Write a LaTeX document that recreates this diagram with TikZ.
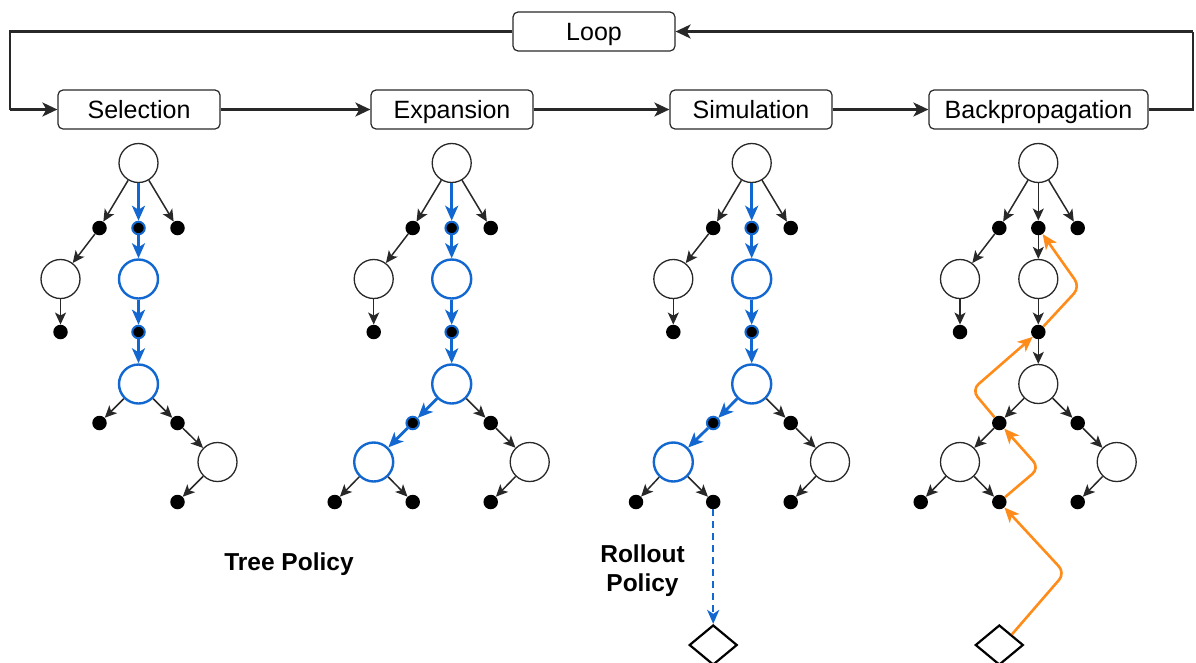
\documentclass[tikz,border=0pt]{standalone}
\usepackage{fontspec}
\setmainfont{Liberation Sans}
\usetikzlibrary{arrows.meta,shapes.geometric}
\definecolor{myblue}{RGB}{18,104,208}
\definecolor{myorange}{RGB}{255,140,26}
\definecolor{lineblk}{RGB}{40,40,40}
\begin{document}
\begin{tikzpicture}[x=1pt,y=-1pt,
  box/.style={draw=lineblk, line width=1.2pt, rounded corners=5pt, minimum width=162pt, minimum height=39pt, inner sep=0pt, fill=white, text height=18pt, text depth=0pt, font=\fontsize{25}{30}\selectfont},
  flowline/.style={line width=2.4pt, draw=lineblk},
  flow/.style={line width=2.4pt, draw=lineblk, -{Stealth[length=15pt,width=14pt,inset=4pt]}},
  circ/.style={circle, draw=lineblk, line width=1.3pt, minimum size=39pt, inner sep=0pt, fill=white},
  bcirc/.style={circ, draw=myblue, line width=2.4pt},
  sdot/.style={circle, fill=black, minimum size=14.5pt, inner sep=0pt},
  bdot/.style={sdot, draw=myblue, line width=2pt, minimum size=12.5pt},
  term/.style={diamond, draw=black, line width=2.2pt, minimum width=48pt, minimum height=40pt, inner sep=0pt, fill=white},
  edge/.style={line width=1.5pt, draw=lineblk, -{Stealth[length=12pt,width=11pt,inset=3pt]}},
  bedge/.style={line width=2.8pt, draw=myblue, -{Stealth[length=15pt,width=13pt,inset=4pt]}},
  bdash/.style={line width=2.4pt, draw=myblue, dash pattern=on 7pt off 5pt, -{Stealth[length=14pt,width=12pt,inset=4pt]}},
  oedge/.style={line width=2.6pt, draw=myorange, rounded corners=9pt, -{Stealth[length=15pt,width=13pt,inset=4pt]}},
  lbl/.style={font=\bfseries\fontsize{24.5}{29}\selectfont, align=center}
]
\useasboundingbox (0,0) rectangle (1196,662);

% top flow
\node[box] (loop) at (594,31.5) {Loop};
\node[box] (sel) at (139,109.5) {Selection};
\node[box] (exp) at (452,109.5) {Expansion};
\node[box] (sim) at (751,109.5) {Simulation};
\node[box, minimum width=219pt] (bp) at (1038.5,109.5) {Backpropagation};
\coordinate (tr) at (1193,31.5);
\coordinate (br) at (1193,109.5);
\coordinate (tl) at (10,31.5);
\coordinate (bl) at (10,109.5);
\draw[flowline] (bp.east) -- (br) -- (tr);
\draw[flow] (tr) -- (loop.east);
\draw[flowline] (loop.west) -- (tl) -- (bl);
\draw[flow] (bl) -- (sel.west);
\draw[flow] (sel) -- (exp);
\draw[flow] (exp) -- (sim);
\draw[flow] (sim) -- (bp);

% Tree A (Selection)
\begin{scope}[xshift=138.5pt]
\node[circ] (A0) at (0,163) {};
\node[sdot] (A1) at (-39,228) {};
\node[bdot] (A2) at (0,228) {};
\node[sdot] (A3) at (39,228) {};
\node[circ] (A4) at (-78,279) {};
\node[bcirc] (A5) at (0,279) {};
\node[sdot] (A6) at (-78,332) {};
\node[bdot] (A7) at (0,332) {};
\node[bcirc] (A8) at (0,384) {};
\node[sdot] (A9) at (-39,423) {};
\node[sdot] (A10) at (39,423) {};
\node[circ] (A12) at (79,462) {};
\node[sdot] (A15) at (39,502) {};
\draw[edge] (A0) -- (A1);
\draw[edge] (A0) -- (A3);
\draw[edge] (A1) -- (A4);
\draw[edge] (A4) -- (A6);
\draw[edge] (A8) -- (A9);
\draw[edge] (A8) -- (A10);
\draw[edge] (A10) -- (A12);
\draw[edge] (A12) -- (A15);
\draw[bedge] (A0) -- (A2);
\draw[bedge] (A2) -- (A5);
\draw[bedge] (A5) -- (A7);
\draw[bedge] (A7) -- (A8);
\end{scope}

% Tree B (Expansion)
\begin{scope}[xshift=451.7pt]
\node[circ] (B0) at (0,163) {};
\node[sdot] (B1) at (-39,228) {};
\node[bdot] (B2) at (0,228) {};
\node[sdot] (B3) at (39,228) {};
\node[circ] (B4) at (-78,279) {};
\node[bcirc] (B5) at (0,279) {};
\node[sdot] (B6) at (-78,332) {};
\node[bdot] (B7) at (0,332) {};
\node[bcirc] (B8) at (0,384) {};
\node[bdot] (B9) at (-39,423) {};
\node[sdot] (B10) at (39,423) {};
\node[bcirc] (B11) at (-78,462) {};
\node[circ] (B12) at (78,462) {};
\node[sdot] (B13) at (-117,502) {};
\node[sdot] (B14) at (-39,502) {};
\node[sdot] (B15) at (39,502) {};
\draw[edge] (B0) -- (B1);
\draw[edge] (B0) -- (B3);
\draw[edge] (B1) -- (B4);
\draw[edge] (B4) -- (B6);
\draw[edge] (B8) -- (B10);
\draw[edge] (B10) -- (B12);
\draw[edge] (B12) -- (B15);
\draw[edge] (B11) -- (B13);
\draw[edge] (B11) -- (B14);
\draw[bedge] (B0) -- (B2);
\draw[bedge] (B2) -- (B5);
\draw[bedge] (B5) -- (B7);
\draw[bedge] (B7) -- (B8);
\draw[bedge] (B8) -- (B9);
\draw[bedge] (B9) -- (B11);
\end{scope}

% Tree C (Simulation)
\begin{scope}[xshift=751.7pt]
\node[circ] (C0) at (0,163) {};
\node[sdot] (C1) at (-38.5,228) {};
\node[bdot] (C2) at (0,228) {};
\node[sdot] (C3) at (39,228) {};
\node[circ] (C4) at (-78.4,279) {};
\node[bcirc] (C5) at (0,279) {};
\node[sdot] (C6) at (-78.4,332) {};
\node[bdot] (C7) at (0,332) {};
\node[bcirc] (C8) at (0,384) {};
\node[bdot] (C9) at (-38.5,423) {};
\node[sdot] (C10) at (39,423) {};
\node[bcirc] (C11) at (-78.4,462) {};
\node[circ] (C12) at (78.3,462) {};
\node[sdot] (C13) at (-115.7,502) {};
\node[sdot] (C14) at (-38.5,502) {};
\node[sdot] (C15) at (39,502) {};
\node[term] (Cdm) at (-38.5,645) {};
\draw[edge] (C0) -- (C1);
\draw[edge] (C0) -- (C3);
\draw[edge] (C1) -- (C4);
\draw[edge] (C4) -- (C6);
\draw[edge] (C8) -- (C10);
\draw[edge] (C10) -- (C12);
\draw[edge] (C12) -- (C15);
\draw[edge] (C11) -- (C13);
\draw[edge] (C11) -- (C14);
\draw[bedge] (C0) -- (C2);
\draw[bedge] (C2) -- (C5);
\draw[bedge] (C5) -- (C7);
\draw[bedge] (C7) -- (C8);
\draw[bedge] (C8) -- (C9);
\draw[bedge] (C9) -- (C11);
\draw[bdash] (C14) -- (Cdm.north);
\end{scope}

% Tree D (Backpropagation)
\begin{scope}[xshift=1038.3pt]
\node[circ] (D0) at (0,163) {};
\node[sdot] (D1) at (-39,228) {};
\node[sdot] (D2) at (0,228) {};
\node[sdot] (D3) at (39.4,228) {};
\node[circ] (D4) at (-78.3,279) {};
\node[circ] (D5) at (0,279) {};
\node[sdot] (D6) at (-78.3,332) {};
\node[sdot] (D7) at (0,332) {};
\node[circ] (D8) at (0,384) {};
\node[sdot] (D9) at (-39,423) {};
\node[sdot] (D10) at (39.4,423) {};
\node[circ] (D11) at (-78.3,462) {};
\node[circ] (D12) at (78.4,462) {};
\node[sdot] (D13) at (-117.6,502) {};
\node[sdot] (D14) at (-39,502) {};
\node[sdot] (D15) at (39.4,502) {};
\node[term] (Ddm) at (-39,645) {};
\draw[edge] (D0) -- (D1);
\draw[edge] (D0) -- (D2);
\draw[edge] (D0) -- (D3);
\draw[edge] (D1) -- (D4);
\draw[edge] (D4) -- (D6);
\draw[edge] (D2) -- (D5);
\draw[edge] (D5) -- (D7);
\draw[edge] (D7) -- (D8);
\draw[edge] (D8) -- (D9);
\draw[edge] (D8) -- (D10);
\draw[edge] (D9) -- (D11);
\draw[edge] (D10) -- (D12);
\draw[edge] (D11) -- (D13);
\draw[edge] (D11) -- (D14);
\draw[edge] (D12) -- (D15);
\coordinate (o1) at (26.7,573);
\coordinate (o2) at (1,468);
\coordinate (o3) at (-66.6,390);
\coordinate (o4) at (41.7,287);
\draw[oedge] (Ddm.north east) -- (o1) -- (D14);
\draw[oedge] (D14) -- (o2) -- (D9);
\draw[oedge] (D9) -- (o3) -- (D7);
\draw[oedge] (D7) -- (o4) -- (D2);
\end{scope}

% labels
\node[lbl] (tp) at (289,564) {Tree Policy};
\node[lbl] (rp) at (642.5,570.5) {Rollout\\Policy};
\end{tikzpicture}
\end{document}
